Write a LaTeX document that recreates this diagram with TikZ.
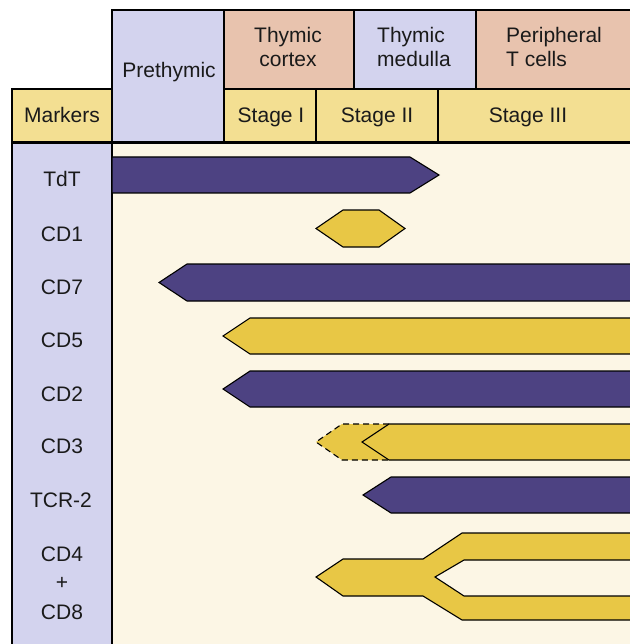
\documentclass[tikz,border=0pt]{standalone}
\usepackage{fontspec}
\setmainfont{Liberation Sans}
\definecolor{lav}{HTML}{D3D3EE}
\definecolor{salmon}{HTML}{E8C3AE}
\definecolor{hdryel}{HTML}{F3DF92}
\definecolor{cream}{HTML}{FCF6E5}
\definecolor{barpurple}{HTML}{4D4282}
\definecolor{bargold}{HTML}{E8C745}
\definecolor{ink}{HTML}{1A1A1A}
\begin{document}
\begin{tikzpicture}[x=1pt,y=-1pt,
  cell/.style={draw=black,line width=1.1pt},
  txt/.style={anchor=base,inner sep=0pt,text=ink,font=\fontsize{21}{24}\selectfont},
  ltxt/.style={txt,anchor=base west},
  barp/.style={fill=barpurple,draw=black,line width=1.1pt,line join=miter},
  barg/.style={fill=bargold,draw=black,line width=1.1pt,line join=miter}]
\useasboundingbox (0,0) rectangle (629,644);
% main area and left column
\fill[cream] (112,142) rectangle (640,650);
\filldraw[cell,fill=lav] (12,142) rectangle (112,660);
% header cells
\filldraw[cell,fill=lav] (112,10) rectangle (224,142);
\filldraw[cell,fill=salmon] (224,10) rectangle (354,89);
\filldraw[cell,fill=lav] (354,10) rectangle (476,89);
\filldraw[cell,fill=salmon] (476,10) rectangle (640,89);
\filldraw[cell,fill=hdryel] (12,89) rectangle (112,142);
\filldraw[cell,fill=hdryel] (224,89) rectangle (316,142);
\filldraw[cell,fill=hdryel] (316,89) rectangle (438,142);
\filldraw[cell,fill=hdryel] (438,89) rectangle (640,142);
\draw[line width=2.6pt] (12,142.5) -- (640,142.5);
% header texts
\node[txt] (pre) at (169,78) {Prethymic};
\node[txt] (cor1) at (288,43) {Thymic};
\node[txt] (cor2) at (288,67) {cortex};
\node[ltxt] (med1) at (377,43) {Thymic};
\node[ltxt] (med2) at (377,67) {medulla};
\node[ltxt] (per1) at (506,43) {Peripheral};
\node[ltxt] (per2) at (506,67) {T cells};
\node[txt] (mark) at (62,123) {Markers};
\node[txt] (s1) at (271,123) {Stage I};
\node[txt] (s2) at (377,123) {Stage II};
\node[txt] (s3) at (528,123) {Stage III};
% row labels
\node[txt] (ltdt) at (62,187) {TdT};
\node[txt] (lcd1) at (62,241) {CD1};
\node[txt] (lcd7) at (62,294) {CD7};
\node[txt] (lcd5) at (62,347) {CD5};
\node[txt] (lcd2) at (62,401) {CD2};
\node[txt] (lcd3) at (62,453) {CD3};
\node[txt] (ltcr) at (61,507) {TCR-2};
\node[txt] (lcd4) at (62,561) {CD4};
\node[txt] (lplus) at (62,589) {+};
\node[txt] (lcd8) at (62,619) {CD8};
% bars
\draw[barp] (112,157) -- (410,157) -- (439,175) -- (410,193) -- (112,193) -- cycle;
\draw[barg] (316,228.5) -- (343,210) -- (379,210) -- (405,228.5) -- (379,247) -- (343,247) -- cycle;
\draw[barp] (159,282.5) -- (187,264) -- (640,264) -- (640,301) -- (187,301) -- cycle;
\draw[barg] (223,336) -- (250,318) -- (640,318) -- (640,354) -- (250,354) -- cycle;
\draw[barp] (223,389) -- (250,371) -- (640,371) -- (640,407) -- (250,407) -- cycle;
% CD3 with dashed extension
\fill[bargold] (316,442) -- (342,424) -- (392,424) -- (392,460) -- (342,460) -- cycle;
\draw[black,line width=1.1pt,dashed,dash pattern=on 6pt off 4pt] (389,424) -- (342,424) -- (316,442) -- (342,460) -- (389,460);
\draw[barg] (362,442) -- (389,424) -- (640,424) -- (640,460) -- (389,460) -- cycle;
\draw[barp] (363,495) -- (391,477) -- (640,477) -- (640,513) -- (391,513) -- cycle;
% CD4 + CD8 fork
\draw[barg] (316,577) -- (343,559) -- (423,559) -- (462,533) -- (640,533) -- (640,560) -- (464,560) -- (435,577) -- (464,596) -- (640,596) -- (640,620) -- (462,620) -- (423,596) -- (343,596) -- cycle;
\end{tikzpicture}
\end{document}
